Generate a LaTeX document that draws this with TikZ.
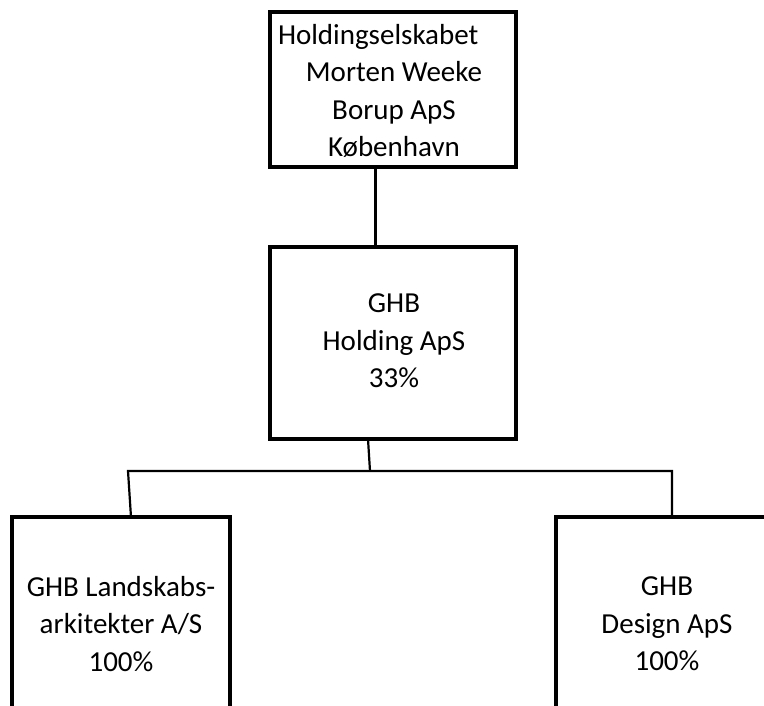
\documentclass[tikz,border=0pt]{standalone}
\usepackage{fontspec}
\setmainfont{Carlito}
\begin{document}
\begin{tikzpicture}[x=1pt,y=-1pt,
  box/.style={draw=black, line width=3.5pt, inner sep=0pt, outer sep=0pt, fill=none},
  txt/.style={inner sep=0pt, align=center, font=\fontsize{29}{37.5}\selectfont},
  conn/.style={draw=black, line width=2.2pt, line join=miter}]
\clip (0,0) rectangle (764,706);
\fill[white] (0,0) rectangle (764,706);
% boxes
\node[box, minimum width=246pt, minimum height=155pt] (top) at (393,89.5) {};
\node[txt] (toptext) at (394,91) {\makebox[232pt][l]{Holdingselskabet}\\Morten Weeke\\Borup ApS\\København};
\node[box, minimum width=246pt, minimum height=192pt] (ghb) at (393,343) {};
\node[txt] (ghbtext) at (394,341) {GHB\\Holding ApS\\33\%};
\node[box, minimum width=218pt, minimum height=260pt, anchor=north west] (land) at (12,517) {};
\node[txt] (landtext) at (121,624) {GHB Landskabs-\\arkitekter A/S\\100\%};
\node[box, minimum width=230pt, minimum height=260pt, anchor=north west] (des) at (556,517) {};
\node[txt] (destext) at (667,624) {GHB\\Design ApS\\100\%};
% connectors
\coordinate (hub) at (370,471);
\coordinate (hl) at (128,471);
\coordinate (hr) at (672,471);
\draw[conn, line width=3pt] ([xshift=-18pt]top.south) -- ([xshift=-18pt]ghb.north);
\draw[conn] ([xshift=-25pt]ghb.south) -- (hub);
\draw[conn] ([xshift=10pt]land.north) -- (hl) -- (hr) -- ([xshift=1pt]des.north);
\end{tikzpicture}
\end{document}
